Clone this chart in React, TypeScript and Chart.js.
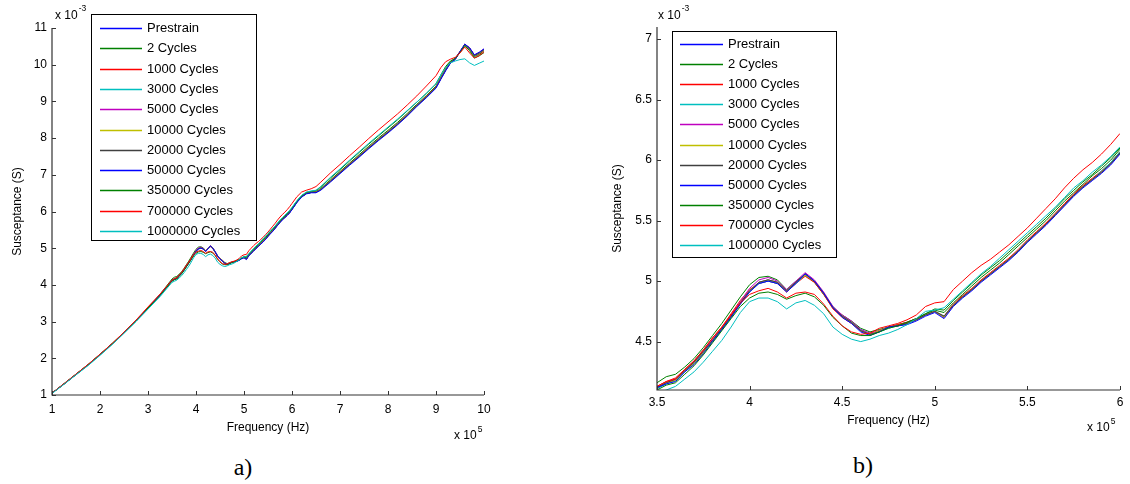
import React, { useEffect, useRef } from "react";
import { Chart, registerables } from "chart.js";

Chart.register(...registerables);

// Frequency in units of 1e5 Hz
const FREQ = [
  1.0, 1.25, 1.5, 1.75, 2.0, 2.25, 2.5, 2.75, 3.0, 3.25, 3.5,
  3.55, 3.6, 3.65, 3.7, 3.75, 3.8, 3.85, 3.9, 3.95, 4.0,
  4.05, 4.1, 4.15, 4.2, 4.25, 4.3, 4.35, 4.4, 4.45, 4.5,
  4.55, 4.6, 4.65, 4.7, 4.75, 4.8, 4.85, 4.9, 4.95, 5.0,
  5.05, 5.1, 5.15, 5.2, 5.25, 5.3, 5.35, 5.4, 5.45, 5.5,
  5.55, 5.6, 5.65, 5.7, 5.75, 5.8, 5.85, 5.9, 5.95, 6.0,
  6.1, 6.2, 6.3, 6.4, 6.5, 6.6, 6.8, 7.0, 7.2, 7.4, 7.6, 7.8, 8.0, 8.2, 8.4, 8.6, 8.8, 9.0,
  9.1, 9.2, 9.3, 9.4, 9.5, 9.6, 9.7, 9.8, 9.9, 10.0,
];

// Susceptance in units of 1e-3 S
const PRESTRAIN = [
  1.05, 1.30, 1.56, 1.82, 2.10, 2.39, 2.70, 3.02, 3.37, 3.72, 4.12,
  4.16, 4.18, 4.26, 4.32, 4.41, 4.51, 4.60, 4.71, 4.82, 4.92,
  4.99, 5.01, 4.99, 4.92, 4.99, 5.06, 5.00, 4.90, 4.78, 4.71,
  4.66, 4.59, 4.56, 4.59, 4.62, 4.63, 4.65, 4.68, 4.72, 4.75,
  4.70, 4.80, 4.87, 4.93, 5.00, 5.06, 5.12, 5.18, 5.25, 5.33,
  5.40, 5.47, 5.55, 5.63, 5.71, 5.78, 5.84, 5.90, 5.97, 6.06,
  6.25, 6.40, 6.49, 6.52, 6.52, 6.60, 6.82, 7.05, 7.28, 7.50, 7.73, 7.95, 8.16, 8.38, 8.62, 8.88, 9.12, 9.38,
  9.62, 9.85, 10.05, 10.15, 10.35, 10.55, 10.45, 10.25, 10.32, 10.42,
];
const CYCLES_2 = [
  1.05, 1.31, 1.57, 1.83, 2.11, 2.40, 2.71, 3.03, 3.38, 3.74, 4.16,
  4.21, 4.23, 4.29, 4.36, 4.45, 4.55, 4.65, 4.76, 4.87, 4.97,
  5.03, 5.04, 5.01, 4.93, 5.00, 5.05, 4.99, 4.89, 4.78, 4.72,
  4.67, 4.61, 4.58, 4.60, 4.62, 4.64, 4.66, 4.69, 4.73, 4.76,
  4.74, 4.82, 4.89, 4.96, 5.03, 5.09, 5.15, 5.22, 5.29, 5.36,
  5.43, 5.50, 5.58, 5.66, 5.73, 5.80, 5.87, 5.93, 6.00, 6.09,
  6.28, 6.43, 6.51, 6.53, 6.54, 6.63, 6.86, 7.09, 7.32, 7.55, 7.78, 8.00, 8.21, 8.43, 8.67, 8.92, 9.16, 9.42,
  9.66, 9.90, 10.08, 10.17, 10.35, 10.55, 10.42, 10.22, 10.28, 10.38,
];
const CYCLES_1000 = [
  1.05, 1.30, 1.56, 1.82, 2.10, 2.39, 2.70, 3.03, 3.38, 3.73, 4.13,
  4.17, 4.20, 4.27, 4.34, 4.43, 4.53, 4.62, 4.73, 4.84, 4.93,
  4.98, 5.00, 4.98, 4.91, 4.98, 5.04, 4.99, 4.89, 4.77, 4.70,
  4.65, 4.59, 4.56, 4.59, 4.62, 4.64, 4.66, 4.69, 4.72, 4.75,
  4.71, 4.81, 4.88, 4.94, 5.01, 5.07, 5.13, 5.19, 5.26, 5.34,
  5.41, 5.48, 5.56, 5.64, 5.72, 5.79, 5.85, 5.91, 5.98, 6.07,
  6.26, 6.41, 6.50, 6.52, 6.53, 6.61, 6.84, 7.07, 7.30, 7.52, 7.75, 7.97, 8.18, 8.40, 8.64, 8.90, 9.14, 9.40,
  9.64, 9.87, 10.06, 10.16, 10.36, 10.54, 10.43, 10.24, 10.30, 10.40,
];
const CYCLES_3000 = [
  1.05, 1.30, 1.55, 1.81, 2.09, 2.38, 2.69, 3.01, 3.36, 3.71, 4.11,
  4.15, 4.18, 4.25, 4.32, 4.41, 4.50, 4.60, 4.70, 4.81, 4.91,
  4.98, 5.00, 4.98, 4.92, 4.98, 5.05, 5.00, 4.90, 4.79, 4.71,
  4.66, 4.60, 4.56, 4.58, 4.61, 4.63, 4.65, 4.68, 4.72, 4.75,
  4.71, 4.80, 4.87, 4.93, 5.00, 5.06, 5.12, 5.18, 5.25, 5.33,
  5.40, 5.47, 5.55, 5.63, 5.71, 5.78, 5.84, 5.91, 5.98, 6.07,
  6.25, 6.40, 6.49, 6.52, 6.52, 6.61, 6.83, 7.06, 7.29, 7.51, 7.74, 7.96, 8.17, 8.39, 8.63, 8.89, 9.13, 9.39,
  9.63, 9.86, 10.06, 10.16, 10.35, 10.54, 10.44, 10.24, 10.31, 10.41,
];
const CYCLES_5000 = [
  1.05, 1.30, 1.56, 1.82, 2.10, 2.39, 2.70, 3.02, 3.37, 3.72, 4.12,
  4.16, 4.19, 4.26, 4.33, 4.42, 4.52, 4.61, 4.72, 4.83, 4.94,
  5.01, 5.03, 5.00, 4.93, 5.00, 5.07, 5.01, 4.91, 4.79, 4.72,
  4.67, 4.60, 4.57, 4.59, 4.62, 4.63, 4.65, 4.68, 4.72, 4.75,
  4.70, 4.80, 4.87, 4.93, 5.00, 5.06, 5.12, 5.18, 5.25, 5.33,
  5.40, 5.47, 5.55, 5.63, 5.71, 5.78, 5.84, 5.90, 5.97, 6.06,
  6.25, 6.40, 6.49, 6.52, 6.52, 6.60, 6.82, 7.05, 7.28, 7.50, 7.73, 7.95, 8.16, 8.38, 8.62, 8.88, 9.12, 9.38,
  9.62, 9.85, 10.05, 10.15, 10.36, 10.56, 10.46, 10.26, 10.33, 10.43,
];
const CYCLES_10000 = [
  1.05, 1.30, 1.56, 1.82, 2.10, 2.39, 2.70, 3.02, 3.37, 3.72, 4.12,
  4.16, 4.18, 4.26, 4.32, 4.41, 4.51, 4.61, 4.71, 4.82, 4.92,
  4.99, 5.01, 4.99, 4.92, 4.99, 5.05, 5.00, 4.90, 4.78, 4.71,
  4.66, 4.59, 4.56, 4.59, 4.62, 4.63, 4.65, 4.68, 4.72, 4.75,
  4.70, 4.80, 4.87, 4.93, 5.00, 5.06, 5.12, 5.18, 5.25, 5.33,
  5.40, 5.47, 5.55, 5.63, 5.71, 5.78, 5.84, 5.90, 5.97, 6.06,
  6.25, 6.40, 6.49, 6.52, 6.52, 6.60, 6.82, 7.05, 7.28, 7.50, 7.73, 7.95, 8.16, 8.38, 8.62, 8.88, 9.12, 9.38,
  9.62, 9.85, 10.05, 10.15, 10.35, 10.55, 10.45, 10.25, 10.32, 10.42,
];
const CYCLES_20000 = [
  1.05, 1.30, 1.56, 1.82, 2.10, 2.39, 2.70, 3.02, 3.37, 3.72, 4.12,
  4.16, 4.19, 4.26, 4.33, 4.42, 4.51, 4.61, 4.71, 4.82, 4.92,
  4.99, 5.01, 4.99, 4.92, 4.99, 5.06, 5.00, 4.90, 4.78, 4.71,
  4.66, 4.59, 4.56, 4.58, 4.62, 4.63, 4.65, 4.68, 4.72, 4.75,
  4.71, 4.80, 4.87, 4.93, 5.00, 5.06, 5.12, 5.18, 5.25, 5.33,
  5.40, 5.47, 5.55, 5.63, 5.71, 5.78, 5.84, 5.90, 5.97, 6.06,
  6.25, 6.40, 6.49, 6.52, 6.52, 6.60, 6.82, 7.05, 7.28, 7.50, 7.73, 7.95, 8.16, 8.38, 8.62, 8.88, 9.12, 9.38,
  9.62, 9.85, 10.05, 10.15, 10.35, 10.55, 10.45, 10.25, 10.32, 10.42,
];
const CYCLES_50000 = [
  1.05, 1.30, 1.56, 1.82, 2.10, 2.39, 2.70, 3.02, 3.37, 3.72, 4.12,
  4.15, 4.17, 4.25, 4.31, 4.40, 4.50, 4.60, 4.70, 4.81, 4.91,
  4.98, 5.00, 4.98, 4.91, 4.98, 5.06, 5.00, 4.90, 4.78, 4.70,
  4.65, 4.58, 4.55, 4.58, 4.62, 4.63, 4.64, 4.67, 4.71, 4.74,
  4.69, 4.79, 4.86, 4.92, 4.99, 5.05, 5.11, 5.17, 5.24, 5.32,
  5.39, 5.46, 5.54, 5.62, 5.70, 5.77, 5.83, 5.89, 5.96, 6.05,
  6.24, 6.39, 6.48, 6.51, 6.51, 6.58, 6.80, 7.03, 7.26, 7.48, 7.71, 7.93, 8.14, 8.36, 8.60, 8.86, 9.10, 9.36,
  9.60, 9.83, 10.04, 10.14, 10.36, 10.56, 10.46, 10.27, 10.34, 10.43,
];
const CYCLES_350000 = [
  1.05, 1.30, 1.56, 1.82, 2.10, 2.39, 2.70, 3.02, 3.37, 3.71, 4.10,
  4.14, 4.16, 4.23, 4.30, 4.39, 4.49, 4.59, 4.69, 4.79, 4.86,
  4.90, 4.91, 4.89, 4.85, 4.88, 4.90, 4.87, 4.80, 4.70, 4.63,
  4.57, 4.55, 4.55, 4.58, 4.61, 4.63, 4.66, 4.69, 4.73, 4.77,
  4.76, 4.84, 4.91, 4.98, 5.05, 5.11, 5.17, 5.24, 5.31, 5.38,
  5.45, 5.52, 5.60, 5.68, 5.75, 5.82, 5.88, 5.95, 6.02, 6.10,
  6.28, 6.43, 6.52, 6.55, 6.57, 6.67, 6.91, 7.14, 7.38, 7.61, 7.84, 8.06, 8.28, 8.50, 8.74, 8.98, 9.22, 9.48,
  9.72, 9.95, 10.10, 10.17, 10.33, 10.52, 10.38, 10.18, 10.24, 10.33,
];
const CYCLES_700000 = [
  1.05, 1.31, 1.57, 1.83, 2.11, 2.40, 2.71, 3.04, 3.40, 3.75, 4.13,
  4.17, 4.19, 4.27, 4.34, 4.43, 4.53, 4.62, 4.72, 4.82, 4.89,
  4.92, 4.94, 4.91, 4.86, 4.90, 4.91, 4.89, 4.81, 4.71, 4.63,
  4.58, 4.56, 4.57, 4.61, 4.63, 4.65, 4.68, 4.72, 4.79, 4.82,
  4.83, 4.93, 5.00, 5.07, 5.13, 5.18, 5.24, 5.30, 5.37, 5.44,
  5.52, 5.60, 5.68, 5.77, 5.85, 5.92, 5.98, 6.05, 6.13, 6.22,
  6.40, 6.53, 6.58, 6.62, 6.68, 6.80, 7.05, 7.28, 7.52, 7.75, 7.99, 8.22, 8.44, 8.66, 8.90, 9.15, 9.42, 9.70,
  9.92, 10.08, 10.15, 10.20, 10.32, 10.48, 10.32, 10.18, 10.25, 10.35,
];
const CYCLES_1000000 = [
  1.04, 1.29, 1.55, 1.80, 2.08, 2.37, 2.68, 3.00, 3.34, 3.68, 4.07,
  4.10, 4.13, 4.19, 4.25, 4.33, 4.42, 4.51, 4.62, 4.74, 4.83,
  4.86, 4.86, 4.83, 4.77, 4.82, 4.84, 4.80, 4.73, 4.62, 4.56,
  4.52, 4.50, 4.52, 4.55, 4.57, 4.60, 4.64, 4.69, 4.75, 4.76,
  4.78, 4.85, 4.92, 4.99, 5.06, 5.12, 5.19, 5.26, 5.33, 5.40,
  5.47, 5.54, 5.61, 5.69, 5.77, 5.83, 5.90, 5.96, 6.03, 6.11,
  6.29, 6.44, 6.53, 6.56, 6.58, 6.68, 6.93, 7.16, 7.40, 7.63, 7.86, 8.08, 8.30, 8.52, 8.75, 8.98, 9.22, 9.48,
  9.72, 9.92, 10.05, 10.10, 10.14, 10.16, 10.05, 9.98, 10.04, 10.10,
];

const SERIES_LABELS = [
  "Prestrain", "2 Cycles", "1000 Cycles", "3000 Cycles", "5000 Cycles", "10000 Cycles",
  "20000 Cycles", "50000 Cycles", "350000 Cycles", "700000 Cycles", "1000000 Cycles",
];
const SERIES_VALUES = [
  PRESTRAIN, CYCLES_2, CYCLES_1000, CYCLES_3000, CYCLES_5000, CYCLES_10000,
  CYCLES_20000, CYCLES_50000, CYCLES_350000, CYCLES_700000, CYCLES_1000000,
];
const SERIES_COLORS = [
  "#0000FF", "#008000", "#FF0000", "#00BFBF", "#BF00BF", "#BFBF00",
  "#404040", "#0000FF", "#008000", "#FF0000", "#00BFBF",
];

const X_TICKS_A = [1, 2, 3, 4, 5, 6, 7, 8, 9, 10];
const Y_TICKS_A = [1, 2, 3, 4, 5, 6, 7, 8, 9, 10, 11];
const X_TICKS_B = [3.5, 4, 4.5, 5, 5.5, 6];
const Y_TICKS_B = [4.5, 5, 5.5, 6, 6.5, 7];

const X_TITLE = "Frequency (Hz)";
const Y_TITLE = "Susceptance (S)";

const FONT = "'Liberation Sans', Arial, Helvetica, sans-serif";

type Cfg = {
  width: number;
  height: number;
  yAxisW: number;
  xAxisH: number;
  padTop: number;
  padRight: number;
  xMin: number;
  xMax: number;
  yMin: number;
  yMax: number;
  xTicks: number[];
  yTicks: number[];
  xTickPad: number;
  legend: { x: number; y: number; w: number; h: number; row0: number; step: number; l0: number; l1: number; tx: number };
  yTitleX: number;
  xTitleY: number;
  expY: { x: number; y: number };
  expX: { x: number; y: number };
};

const CFG_A: Cfg = {
  width: 500, height: 450, yAxisW: 52, xAxisH: 55, padTop: 28, padRight: 16,
  xMin: 1, xMax: 10, yMin: 1, yMax: 11, xTicks: X_TICKS_A, yTicks: Y_TICKS_A, xTickPad: 7,
  legend: { x: 91.5, y: 14.5, w: 165, h: 226, row0: 28, step: 20.3, l0: 100, l1: 142, tx: 147 },
  yTitleX: 18, xTitleY: 428,
  expY: { x: 55, y: 16 }, expX: { x: 454, y: 436 },
};
const CFG_B: Cfg = {
  width: 530, height: 450, yAxisW: 57, xAxisH: 60, padTop: 27, padRight: 10,
  xMin: 3.5, xMax: 6, yMin: 4.1, yMax: 7.1, xTicks: X_TICKS_B, yTicks: Y_TICKS_B, xTickPad: 5,
  legend: { x: 72.5, y: 31.5, w: 164, h: 226, row0: 44, step: 20.1, l0: 80, l1: 123, tx: 128 },
  yTitleX: 18, xTitleY: 421,
  expY: { x: 58, y: 16 }, expX: { x: 487, y: 428 },
};

function makeChart(canvas: HTMLCanvasElement, cfg: Cfg) {
  const datasets = SERIES_LABELS.map((label, i) => ({
    label,
    data: FREQ.map((f, k) => ({ x: f, y: SERIES_VALUES[i][k] })),
    borderColor: SERIES_COLORS[i],
    backgroundColor: SERIES_COLORS[i],
    borderWidth: 1,
    pointRadius: 0,
    tension: 0,
    fill: false,
    order: -i,
  }));

  const decor = {
    id: "matlabDecor",
    afterDraw(chart: any) {
      const ctx = chart.ctx as CanvasRenderingContext2D;
      const a = chart.chartArea;
      const xs = chart.scales.x;
      const ys = chart.scales.y;
      ctx.save();
      // axes
      ctx.strokeStyle = "#333";
      ctx.lineWidth = 1.2;
      ctx.beginPath();
      ctx.moveTo(a.left, a.top);
      ctx.lineTo(a.left, a.bottom);
      ctx.lineTo(a.right, a.bottom);
      ctx.stroke();
      // inward ticks
      ctx.lineWidth = 1;
      ctx.beginPath();
      cfg.xTicks.forEach((v) => {
        const px = Math.round(xs.getPixelForValue(v)) + 0.5;
        ctx.moveTo(px, a.bottom);
        ctx.lineTo(px, a.bottom - 4);
      });
      cfg.yTicks.forEach((v) => {
        const py = Math.round(ys.getPixelForValue(v)) + 0.5;
        ctx.moveTo(a.left, py);
        ctx.lineTo(a.left + 4, py);
      });
      ctx.stroke();

      // legend
      const L = cfg.legend;
      ctx.fillStyle = "#fff";
      ctx.fillRect(L.x, L.y, L.w, L.h);
      ctx.strokeStyle = "#000";
      ctx.lineWidth = 1;
      ctx.strokeRect(L.x, L.y, L.w, L.h);
      ctx.font = `13px ${FONT}`;
      ctx.textBaseline = "middle";
      ctx.textAlign = "left";
      SERIES_LABELS.forEach((lab, i) => {
        const y = Math.round(L.row0 + i * L.step) + 0.5;
        ctx.strokeStyle = SERIES_COLORS[i];
        ctx.lineWidth = 1.3;
        ctx.beginPath();
        ctx.moveTo(L.l0, y);
        ctx.lineTo(L.l1, y);
        ctx.stroke();
        ctx.fillStyle = "#000";
        ctx.fillText(lab, L.tx, y);
      });

      // titles
      ctx.fillStyle = "#000";
      ctx.font = `12px ${FONT}`;
      ctx.textAlign = "center";
      ctx.textBaseline = "middle";
      ctx.fillText(X_TITLE, (a.left + a.right) / 2, cfg.xTitleY);
      ctx.save();
      ctx.translate(cfg.yTitleX, (a.top + a.bottom) / 2);
      ctx.rotate(-Math.PI / 2);
      ctx.fillText(Y_TITLE, 0, 0);
      ctx.restore();

      // exponents
      ctx.textAlign = "left";
      ctx.font = `12px ${FONT}`;
      const base = "x 10";
      const bw = ctx.measureText(base).width;
      ctx.fillText(base, cfg.expY.x, cfg.expY.y);
      ctx.fillText(base, cfg.expX.x, cfg.expX.y);
      ctx.font = `8.5px ${FONT}`;
      ctx.fillText("-3", cfg.expY.x + bw + 1, cfg.expY.y - 7);
      ctx.fillText("5", cfg.expX.x + bw + 1, cfg.expX.y - 6);
      ctx.restore();
    },
  };

  return new Chart(canvas, {
    type: "line",
    data: { datasets },
    options: {
      responsive: false,
      animation: false,
      devicePixelRatio: 1,
      layout: { padding: { left: 0, right: cfg.padRight, top: cfg.padTop, bottom: 0 } },
      plugins: { legend: { display: false }, tooltip: { enabled: false } },
      scales: {
        x: {
          type: "linear",
          min: cfg.xMin,
          max: cfg.xMax,
          afterBuildTicks: (s: any) => {
            s.ticks = cfg.xTicks.map((v) => ({ value: v }));
          },
          afterFit: (s: any) => {
            s.height = cfg.xAxisH;
          },
          grid: { display: false, drawTicks: false },
          border: { display: false },
          ticks: {
            autoSkip: false,
            maxRotation: 0,
            padding: cfg.xTickPad,
            color: "#000",
            font: { family: FONT, size: 12 },
            callback: (v: any) => String(v),
          },
        },
        y: {
          type: "linear",
          min: cfg.yMin,
          max: cfg.yMax,
          afterBuildTicks: (s: any) => {
            s.ticks = cfg.yTicks.map((v) => ({ value: v }));
          },
          afterFit: (s: any) => {
            s.width = cfg.yAxisW;
          },
          grid: { display: false, drawTicks: false },
          border: { display: false },
          ticks: {
            autoSkip: false,
            padding: 5,
            color: "#000",
            font: { family: FONT, size: 12 },
            callback: (v: any) => String(v),
          },
        },
      },
    },
    plugins: [decor],
  } as any);
}

export default function App() {
  const refA = useRef<HTMLCanvasElement>(null);
  const refB = useRef<HTMLCanvasElement>(null);

  useEffect(() => {
    const ca = makeChart(refA.current!, CFG_A);
    const cb = makeChart(refB.current!, CFG_B);
    return () => {
      ca.destroy();
      cb.destroy();
    };
  }, []);

  const serif = "'Liberation Serif', 'Times New Roman', serif";
  return (
    <div style={{ position: "fixed", left: 0, top: 0, width: 1130, height: 484, background: "#fff", overflow: "hidden" }}>
      <canvas ref={refA} width={CFG_A.width} height={CFG_A.height} style={{ position: "absolute", left: 0, top: 0 }} />
      <canvas ref={refB} width={CFG_B.width} height={CFG_B.height} style={{ position: "absolute", left: 600, top: 0 }} />
      <div style={{ position: "absolute", left: 243, top: 467, transform: "translate(-50%,-50%)", font: `24px ${serif}`, color: "#000", lineHeight: 1 }}>a)</div>
      <div style={{ position: "absolute", left: 863, top: 465, transform: "translate(-50%,-50%)", font: `24px ${serif}`, color: "#000", lineHeight: 1 }}>b)</div>
    </div>
  );
}
